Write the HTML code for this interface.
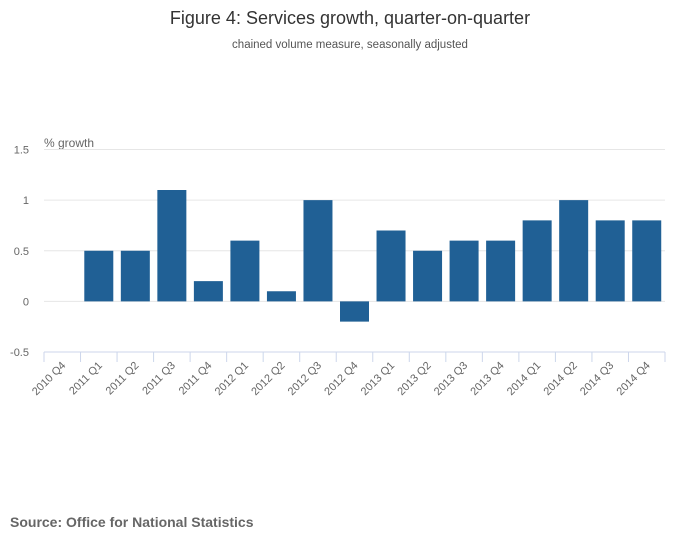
<!DOCTYPE html>
<html><head><meta charset="utf-8"><style>
body{margin:0;background:#fff;font-family:"Liberation Sans",sans-serif}
svg text{font-family:"Liberation Sans",sans-serif}
</style></head><body>
<svg width="700" height="549" viewBox="0 0 700 549">
<text x="350" y="24" text-anchor="middle" font-size="18" fill="#333">Figure 4: Services growth, quarter-on-quarter</text>
<text x="350" y="48" text-anchor="middle" font-size="11.5" fill="#555">chained volume measure, seasonally adjusted</text>
<text x="44" y="147" font-size="12" fill="#666">% growth</text>
<g id="grid"></g><g id="bars"></g><g id="xaxis"></g>
<text x="10" y="527" font-size="14" font-weight="bold" fill="#666">Source: Office for National Statistics</text>
</svg>
<script>
const categories=["2010 Q4","2011 Q1","2011 Q2","2011 Q3","2011 Q4","2012 Q1","2012 Q2","2012 Q3","2012 Q4","2013 Q1","2013 Q2","2013 Q3","2013 Q4","2014 Q1","2014 Q2","2014 Q3","2014 Q4"];
const values=[null,0.5,0.5,1.1,0.2,0.6,0.1,1.0,-0.2,0.7,0.5,0.6,0.6,0.8,1.0,0.8,0.8];
const yTicks=[1.5,1,0.5,0,-0.5];
const yTickLabels=["1.5","1","0.5","0","-0.5"];
const NS="http://www.w3.org/2000/svg";
const L=44,R=665,T=149.5,B=352,yMax=1.5,yMin=-0.5;
const y=v=>T+(yMax-v)/(yMax-yMin)*(B-T);
const bw=(R-L)/categories.length;
const x=i=>L+bw*i;
function mk(t,a,p){const e=document.createElementNS(NS,t);for(const k in a)e.setAttribute(k,a[k]);p.appendChild(e);return e;}
const g=document.getElementById('grid'),bg=document.getElementById('bars'),xg=document.getElementById('xaxis');
yTicks.forEach((v,i)=>{
 if(v!==yMin){const l=mk('line',{x1:L,x2:R,y1:y(v),y2:y(v),stroke:'#e6e6e6'},g);
 
 }
 const t=mk('text',{x:29,y:y(v)+4,'text-anchor':'end','font-size':11,fill:'#666'},g);t.textContent=yTickLabels[i];
 
 
});
const ax=mk('line',{x1:L,x2:R,y1:B,y2:B,stroke:'#ccd6eb'},xg);


for(let i=0;i<=categories.length;i++){const tk=mk('line',{x1:x(i),x2:x(i),y1:B,y2:B+10,stroke:'#ccd6eb'},xg);
 
 }
categories.forEach((c,i)=>{
 const cx=x(i)+bw/2;
 const t=mk('text',{x:cx+4,y:B+14,'text-anchor':'end','font-size':11,fill:'#666',transform:`rotate(-45 ${cx+4} ${B+14})`},xg);t.textContent=c;
 
 
 const v=values[i];if(v===null)return;
 const r=mk('rect',{x:cx-14.5,width:29,y:Math.min(y(v),y(0)),height:Math.abs(y(v)-y(0)),fill:'#206095'},bg);
 
 
});
</script>
</body></html>
